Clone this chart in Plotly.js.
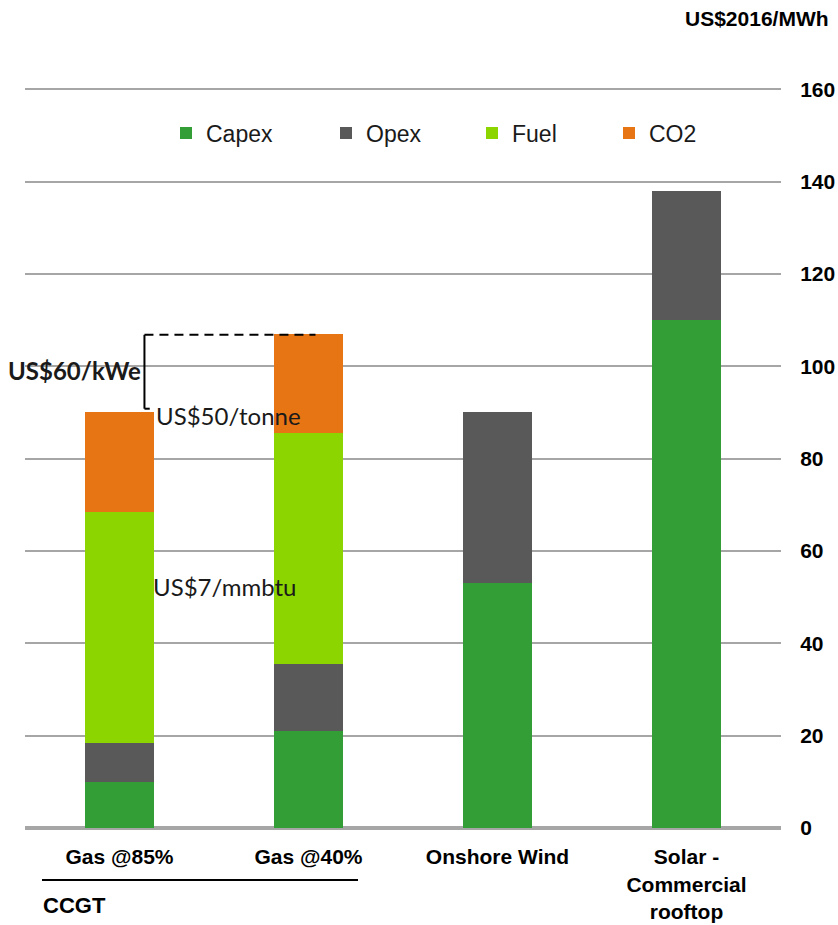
<!DOCTYPE html>
<html>
<head>
<meta charset="utf-8">
<script src="https://cdn.plot.ly/plotly-3.0.1.min.js"></script>
<style>html,body{margin:0;padding:0;background:#fff;}#chart{width:838px;height:925px;}</style>
</head>
<body>
<div id="chart"></div>
<script>
// ---- data ----
const categories = ['Gas @85%', 'Gas @40%', 'Onshore Wind', 'Solar -<br>Commercial<br>rooftop'];
const capex = [10, 21, 53, 110];
const opex = [8.5, 14.5, 37, 28];
const fuel = [50, 50, null, null];
const co2 = [21.5, 21.5, null, null];
const seriesNames = ['Capex', 'Opex', 'Fuel', 'CO2'];
const yTickVals = [0, 20, 40, 60, 80, 100, 120, 140, 160];
const yUnit = 'US$2016/MWh';
const groupLabel = 'CCGT';
const noteCapex = 'US$60/kWe';
const noteCo2 = 'US$50/tonne';
const noteFuel = 'US$7/mmbtu';

const colors = ['#339E36', '#595959', '#8DD500', '#E87514'];
const seriesValues = [capex, opex, fuel, co2];
const legendIds = ['legend', 'legend2', 'legend3', 'legend4'];

const traces = seriesNames.map((n, i) => ({
  type: 'bar',
  name: n,
  x: categories,
  y: seriesValues[i],
  width: 0.36,
  marker: {color: colors[i], line: {width: 0}},
  legend: legendIds[i],
  hoverinfo: 'skip'
}));

const SANS = '"Liberation Sans", Arial, sans-serif';
const CAL = 'Lato, "Liberation Sans", sans-serif';

function legendAt(xpx) {
  return {
    orientation: 'h', x: (xpx - 25) / 756, xanchor: 'left',
    y: (828 - 133) / 740, yanchor: 'middle',
    font: {family: SANS, size: 23, color: '#1a1a1a'},
    bgcolor: 'rgba(0,0,0,0)', borderwidth: 0
  };
}

const layout = {
  width: 838, height: 925,
  margin: {l: 25, r: 57, t: 88, b: 97},
  paper_bgcolor: '#fff', plot_bgcolor: '#fff',
  barmode: 'stack',
  showlegend: true,
  legend: legendAt(166),
  legend2: legendAt(326),
  legend3: legendAt(472),
  legend4: legendAt(609),
  xaxis: {
    type: 'category', range: [-0.5, 3.5],
    showgrid: false, zeroline: false, showline: false,
    ticks: 'outside', ticklen: 10, tickcolor: 'rgba(0,0,0,0)',
    tickfont: {family: SANS, size: 21, color: '#000', weight: 'bold'},
    fixedrange: true
  },
  yaxis: {
    side: 'right', range: [0, 160.25], tickvals: yTickVals,
    showgrid: true, gridcolor: '#A6A6A6', gridwidth: 2,
    zeroline: true, zerolinecolor: '#A6A6A6', zerolinewidth: 4,
    showline: false,
    ticks: 'outside', ticklen: 14, tickcolor: 'rgba(0,0,0,0)',
    tickfont: {family: SANS, size: 21, color: '#000', weight: 'bold'},
    fixedrange: true
  },
  shapes: [
    {type: 'line', xref: 'x', yref: 'y', x0: 0.132, x1: 0.132, y0: 90.8, y1: 106.8, line: {color: '#000', width: 2}},
    {type: 'line', xref: 'x', yref: 'y', x0: 0.132, x1: 0.16, y0: 90.8, y1: 90.8, line: {color: '#000', width: 2}},
    {type: 'line', xref: 'x', yref: 'y', x0: 0.132, x1: 1.037, y0: 106.8, y1: 106.8, line: {color: '#000', width: 2, dash: '9px,6px'}},
    {type: 'line', xref: 'paper', yref: 'paper', x0: (42 - 25) / 756, x1: (358 - 25) / 756, y0: -52 / 740, y1: -52 / 740, line: {color: '#000', width: 2}}
  ],
  annotations: [
    {xref: 'paper', yref: 'paper', x: (831 - 25) / 756, y: (828 - 18) / 740, xanchor: 'right', yanchor: 'middle',
     text: yUnit, showarrow: false, font: {family: SANS, size: 21, color: '#000', weight: 'bold'}},
    {xref: 'paper', yref: 'paper', x: (41 - 25) / 756, y: -(905 - 828) / 740, xanchor: 'left', yanchor: 'middle',
     text: groupLabel, showarrow: false, font: {family: SANS, size: 22, color: '#000', weight: 'bold'}},
    {xref: 'x', yref: 'y', x: 0.125, y: 99, xanchor: 'right', yanchor: 'middle',
     text: noteCapex, showarrow: false, font: {family: CAL, size: 24, color: '#1a1a1a', weight: 'bold'}},
    {xref: 'x', yref: 'y', x: 0.18, y: 89.3, xanchor: 'left', yanchor: 'middle',
     text: noteCo2, showarrow: false, font: {family: CAL, size: 24, color: '#1a1a1a'}},
    {xref: 'x', yref: 'y', x: 0.165, y: 52.3, xanchor: 'left', yanchor: 'middle',
     text: noteFuel, showarrow: false, font: {family: CAL, size: 24, color: '#1a1a1a'}}
  ]
};

Plotly.newPlot('chart', traces, layout, {displayModeBar: false, staticPlot: true});
</script>
</body>
</html>
